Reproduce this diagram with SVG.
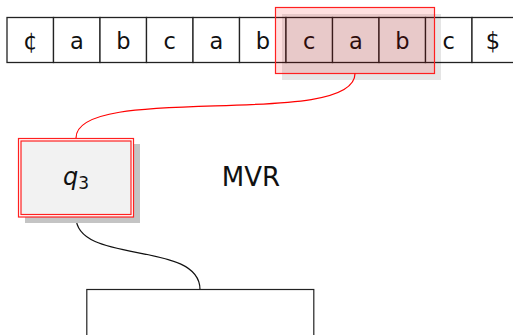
<svg xmlns="http://www.w3.org/2000/svg" width="513" height="335" viewBox="0 0 513 335">
<style>
.cell{fill:#fff;stroke:#222;stroke-width:1.3}
.t{font-family:"DejaVu Sans","Liberation Sans",sans-serif;font-size:22.5px;fill:#111;text-anchor:middle}
.conn{fill:none;stroke-width:1.2}
</style>
<rect width="513" height="335" fill="#fff"/>
<g id="tape">
<rect class="cell" x="7" y="17.5" width="46.5" height="45"/>
<rect class="cell" x="53.5" y="17.5" width="46.5" height="45"/>
<rect class="cell" x="100" y="17.5" width="46.5" height="45"/>
<rect class="cell" x="146.5" y="17.5" width="46.5" height="45"/>
<rect class="cell" x="193" y="17.5" width="46.5" height="45"/>
<rect class="cell" x="239.5" y="17.5" width="46.5" height="45"/>
<rect class="cell" x="286" y="17.5" width="46.5" height="45"/>
<rect class="cell" x="332.5" y="17.5" width="46.5" height="45"/>
<rect class="cell" x="379" y="17.5" width="46.5" height="45"/>
<rect class="cell" x="425.5" y="17.5" width="46.5" height="45"/>
<rect class="cell" x="472" y="17.5" width="46.5" height="45"/>
<text class="t" x="30.3" y="48.5">¢</text>
<text class="t" x="76.8" y="48.5">a</text>
<text class="t" x="123.3" y="48.5">b</text>
<text class="t" x="169.8" y="48.5">c</text>
<text class="t" x="216.3" y="48.5">a</text>
<text class="t" x="262.8" y="48.5">b</text>
<text class="t" x="309.3" y="48.5">c</text>
<text class="t" x="355.8" y="48.5">a</text>
<text class="t" x="402.3" y="48.5">b</text>
<text class="t" x="448.8" y="48.5">c</text>
<text class="t" x="493" y="48.5">$</text>
</g>
<g id="highlight">
<rect x="282" y="14" width="159" height="66" fill="#000" fill-opacity="0.1"/>
<rect x="275.5" y="7.5" width="159" height="66" fill="#ff0000" fill-opacity="0.12" stroke="#ff2020" stroke-width="1.2"/>
</g>
<g id="connectors">
<path class="conn" stroke="#ff0000" d="M355,73.5 C355,130 76,82 76,138"/>
<path class="conn" stroke="#111" d="M76,217 C76,265 200,240 200,289.5"/>
</g>
<g id="q3">
<rect x="25" y="144" width="115" height="79" fill="#c4c4c4"/>
<rect x="18.5" y="138.5" width="115" height="78.5" fill="#fff" stroke="#ff2020" stroke-width="1.2"/>
<rect x="21" y="141" width="110" height="73.5" fill="#f2f2f2" stroke="#ff2020" stroke-width="1.2"/>
<text x="76" y="184.5" font-family="DejaVu Sans,sans-serif" font-size="24" fill="#111" text-anchor="middle"><tspan font-style="italic">q</tspan><tspan font-size="17" dy="4">3</tspan></text>
</g>
<g id="mvr">
<text x="251" y="186" font-family="DejaVu Sans,sans-serif" font-size="26" fill="#111" text-anchor="middle">MVR</text>
</g>
<g id="bottom">
<rect x="86.8" y="289.5" width="227" height="60" fill="#fff" stroke="#222" stroke-width="1.2"/>
</g>
</svg>
